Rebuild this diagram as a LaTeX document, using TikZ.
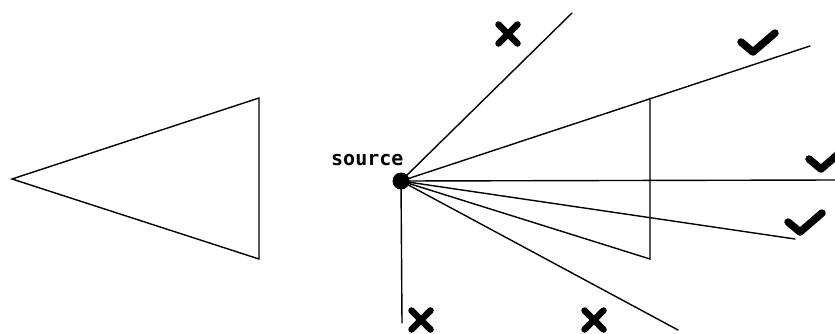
\documentclass[tikz,border=0pt]{standalone}
\usepackage{fontspec}
\newfontfamily\labelfont{DejaVu Sans Mono}
\begin{document}
\begin{tikzpicture}[x=1pt,y=-1pt,
  ln/.style={line width=1.4pt, line cap=round, line join=miter},
  crossmark/.style={line width=6.5pt, line cap=round},
  checkmark/.style={line width=7.5pt, line cap=round, line join=round}]
\useasboundingbox (0,0) rectangle (835,333);
% left triangle
\coordinate (la) at (12,179);
\coordinate (lt) at (259,98);
\coordinate (lb) at (259,259);
\draw[ln] (la) -- (lt) -- (lb) -- cycle;
% source
\node[circle, fill=black, inner sep=0pt, minimum size=17pt] (src) at (401,181) {};
\node[font=\labelfont\bfseries\fontsize{20}{22}\selectfont, inner sep=0pt, anchor=base west] (lbl) at (331,165) {source};
% ray end points
\coordinate (r1) at (572,13);
\coordinate (r2) at (810,46);
\coordinate (r3) at (835,180);
\coordinate (r4) at (795,239);
\coordinate (r6) at (678,330);
\coordinate (r7) at (402,323);
\coordinate (tt) at (650,98);
\coordinate (tb) at (650,259);
% rays
\draw[ln] (src.center) -- (r1);
\draw[ln] (src.center) -- (r2);
\draw[ln] (src.center) -- (r3);
\draw[ln] (src.center) -- (r4);
\draw[ln] (src.center) -- (r6);
\draw[ln] (src.center) -- (r7);
% right triangle
\draw[ln] (src.center) -- (tb) -- (tt);
% crosses
\foreach \cx/\cy in {508/34, 421/320, 594/320}{
  \draw[crossmark] (\cx-9.5,\cy-9.5) -- (\cx+9.5,\cy+9.5);
  \draw[crossmark] (\cx-9.5,\cy+9.5) -- (\cx+9.5,\cy-9.5);
}
% checks
\foreach \cx/\cy in {741/42, 809/159, 788/222}{
  \draw[checkmark] (\cx,\cy) -- (\cx+12,\cy+10) -- (\cx+34,\cy-9);
}
\end{tikzpicture}
\end{document}
